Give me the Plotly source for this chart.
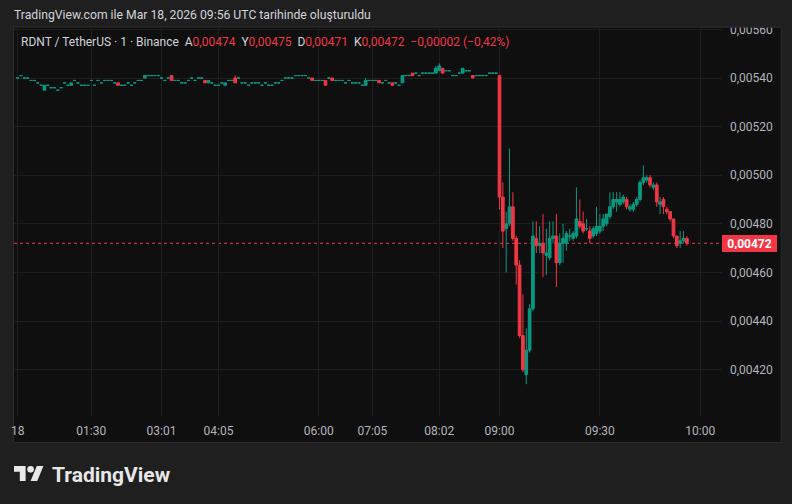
import plotly.graph_objects as go

# ---------------- data (prices in units of 0.00001 USDT) ----------------
PRE_OPEN_E5 = [
    540, 541, 540, 540, 539, 539, 538, 537,
    535, 537, 536, 536, 535, 536, 538, 537,
    537, 539, 538, 537, 537, 537, 539, 537,
    539, 538, 539, 539, 539, 538, 538, 537,
    537, 538, 537, 538,
    539, 539, 540, 541, 541, 541, 541, 540,
    539, 540, 541, 539, 539, 538, 538, 539,
    540, 539, 540, 540, 539, 538, 538, 537,
    537, 538, 537, 539, 539, 540, 540, 538,
    538, 537, 538, 538,
    538, 537, 538, 537, 537, 538, 538, 539,
    540, 540, 540, 541, 541, 541, 541, 540,
    540, 539, 539, 539, 539, 540, 540, 539,
    539, 539, 538, 539, 538, 538, 538, 537,
    537, 539, 539, 539,
    539, 538, 539, 538, 538, 538, 537, 538,
    541, 541, 542, 542, 541, 542, 542, 542,
    542, 542, 543, 544, 543, 543, 541, 541,
    542, 542, 543, 543, 541, 541, 541, 541,
    541, 542, 542, 542,
]
PRE_HIGH_E5 = [
    540, 541, 540, 540, 539, 539, 538, 537,
    537, 537, 536, 536, 535, 536, 538, 537,
    538, 539, 538, 537, 537, 537, 539, 537,
    539, 538, 539, 539, 539, 538, 538, 537,
    537, 538, 537, 538,
    539, 539, 541, 541, 541, 541, 541, 540,
    539, 540, 541, 539, 539, 538, 538, 539,
    540, 539, 540, 540, 539, 539, 538, 537,
    537, 538, 538, 539, 539, 541, 540, 538,
    538, 537, 538, 538,
    538, 537, 538, 537, 537, 538, 538, 539,
    540, 540, 540, 541, 541, 541, 541, 540,
    540, 539, 539, 539, 539, 540, 540, 539,
    539, 539, 538, 539, 538, 538, 538, 537,
    540, 539, 539, 539,
    539, 538, 539, 538, 538, 538, 537, 541,
    541, 541, 542, 542, 541, 542, 542, 542,
    542, 545, 546, 544, 543, 543, 541, 541,
    542, 544, 543, 543, 541, 541, 541, 541,
    541, 542, 542, 542,
]
PRE_LOW_E5 = [
    540, 541, 540, 540, 539, 539, 538, 537,
    535, 537, 536, 536, 535, 536, 538, 537,
    537, 539, 538, 537, 537, 537, 539, 537,
    539, 538, 539, 539, 539, 538, 537, 537,
    537, 538, 537, 538,
    539, 539, 540, 541, 541, 541, 541, 540,
    539, 540, 539, 539, 539, 538, 538, 539,
    540, 539, 540, 540, 538, 538, 538, 537,
    537, 538, 537, 539, 539, 538, 540, 538,
    538, 537, 538, 538,
    538, 537, 538, 537, 537, 538, 538, 539,
    540, 540, 540, 541, 541, 541, 541, 540,
    539, 539, 539, 539, 537, 540, 539, 539,
    539, 539, 538, 539, 538, 538, 538, 537,
    537, 539, 539, 539,
    538, 538, 539, 538, 537, 538, 537, 538,
    541, 541, 541, 542, 541, 542, 542, 542,
    542, 542, 543, 542, 543, 543, 541, 541,
    542, 542, 543, 543, 540, 541, 541, 541,
    541, 542, 542, 542,
]
PRE_CLOSE_E5 = [
    540, 541, 540, 540, 539, 539, 538, 537,
    537, 537, 536, 536, 535, 536, 538, 537,
    538, 539, 538, 537, 537, 537, 539, 537,
    539, 538, 539, 539, 539, 538, 537, 537,
    537, 538, 537, 538,
    539, 539, 541, 541, 541, 541, 541, 540,
    539, 540, 539, 539, 539, 538, 538, 539,
    540, 539, 540, 540, 538, 539, 538, 537,
    537, 538, 538, 539, 539, 538, 540, 538,
    538, 537, 538, 538,
    538, 537, 538, 537, 537, 538, 538, 539,
    540, 540, 540, 541, 541, 541, 541, 540,
    539, 539, 539, 539, 537, 540, 539, 539,
    539, 539, 538, 539, 538, 538, 538, 537,
    539, 539, 539, 539,
    538, 538, 539, 538, 537, 538, 537, 541,
    541, 541, 541, 542, 541, 542, 542, 542,
    542, 544, 545, 542, 543, 543, 541, 541,
    542, 544, 543, 543, 540, 541, 541, 541,
    541, 542, 542, 542,
]

# 09:00 .. 09:56, one-minute bars
POST_OPEN_E5 = [541, 491, 478, 480, 487, 474, 463, 434, 418, 428,
                445, 474, 471, 472, 467, 466, 474, 475, 464, 472,
                472, 475, 474, 475, 481, 480, 478, 477, 475, 476,
                477, 479, 480, 483, 487, 489, 488, 489, 490, 486,
                486, 488, 490, 497, 498, 499, 495, 496, 488, 490,
                486, 485, 482, 475, 472, 473, 474]
POST_HIGH_E5 = [541, 497, 485, 511, 493, 475, 465, 451, 437, 447,
                481, 481, 479, 484, 478, 481, 481, 484, 476, 480,
                477, 478, 477, 495, 490, 485, 482, 479, 479, 487,
                484, 484, 484, 493, 493, 493, 493, 492, 491, 488,
                489, 491, 498, 504, 500, 500, 497, 497, 491, 491,
                487, 485, 482, 475, 477, 477, 475]
POST_LOW_E5 = [486, 470, 460, 479, 473, 455, 433, 419, 414, 427,
               444, 468, 468, 458, 459, 465, 472, 454, 463, 464,
               469, 473, 473, 474, 478, 476, 477, 472, 474, 475,
               476, 477, 479, 482, 486, 485, 487, 488, 486, 485,
               485, 487, 489, 496, 497, 495, 494, 487, 484, 484,
               484, 481, 474, 470, 470, 472, 471]
POST_CLOSE_E5 = [491, 477, 480, 487, 474, 463, 434, 420, 428, 445,
                 475, 471, 472, 468, 468, 474, 475, 464, 472, 474,
                 476, 475, 476, 482, 479, 477, 478, 474, 478, 479,
                 479, 482, 484, 487, 490, 490, 490, 491, 487, 487,
                 488, 490, 497, 499, 499, 496, 496, 489, 489, 487,
                 485, 482, 475, 471, 473, 474, 472]

TIME_TICK_IDX = [-144, -122, -101, -84, -54, -38, -18, 0, 30, 60]
TIME_TICK_TEXT = ["18", "01:30", "03:01", "04:05", "06:00", "07:05", "08:02", "09:00", "09:30", "10:00"]
PRICE_TICKS = [0.00420, 0.00440, 0.00460, 0.00480, 0.00500, 0.00520, 0.00540, 0.00560]
LAST_PRICE = 0.00472

HEADER = "TradingView.com ile Mar 18, 2026 09:56 UTC tarihinde oluşturuldu"
SYMBOL = "RDNT / TetherUS · 1 · Binance"
OHLC_TEXT = [("A", "0,00474"), ("Y", "0,00475"), ("D", "0,00471"), ("K", "0,00472")]
CHANGE_TEXT = "−0,00002 (−0,42%)"

# ---------------- style ----------------
UP = "#089981"
DOWN = "#f23645"
OUTER_BG = "#1f1f1f"
PANE_BG = "#0f0f0f"
GRID = "#1e1e1e"
BORDER = "#2c2c2c"
TEXT = "#d1d4dc"
AXIS_TEXT = "#b2b5be"
FONT = "Roboto"

W, H = 792, 504
ML, MR, MT, MB = 11, 70, 28, 88
PW, PH = W - ML - MR, H - MT - MB


def px(xp):
    return (xp - ML) / PW


def py(yp):
    return (H - MB - yp) / PH


o = [v * 1e-5 for v in PRE_OPEN_E5 + POST_OPEN_E5]
h = [v * 1e-5 for v in PRE_HIGH_E5 + POST_HIGH_E5]
l = [v * 1e-5 for v in PRE_LOW_E5 + POST_LOW_E5]
c = [v * 1e-5 for v in PRE_CLOSE_E5 + POST_CLOSE_E5]
n_pre = len(PRE_OPEN_E5)
xs = list(range(-n_pre, len(POST_OPEN_E5)))

up_idx = [i for i in range(len(xs)) if c[i] >= o[i] - 1e-12]
dn_idx = [i for i in range(len(xs)) if c[i] < o[i] - 1e-12]

fig = go.Figure()
for idx, col in ((up_idx, UP), (dn_idx, DOWN)):
    fig.add_trace(go.Candlestick(
        x=[xs[i] for i in idx],
        open=[o[i] for i in idx],
        high=[h[i] for i in idx],
        low=[l[i] for i in idx],
        close=[c[i] for i in idx],
        increasing=dict(line=dict(color=col, width=1), fillcolor=col),
        decreasing=dict(line=dict(color=col, width=1), fillcolor=col),
        whiskerwidth=0,
        hoverinfo="skip",
        showlegend=False,
    ))

shapes = [
    # chart frame
    dict(type="rect", xref="paper", yref="paper", layer="below",
         x0=px(10.5), x1=px(781.5), y0=py(442.5), y1=py(27),
         fillcolor=PANE_BG, line=dict(color=BORDER, width=1)),
    # last price dotted line
    dict(type="line", xref="paper", yref="y", layer="below",
         x0=0, x1=1, y0=LAST_PRICE, y1=LAST_PRICE,
         line=dict(color=DOWN, width=1, dash="dot")),
    # cover the clipped top of the price scale
    dict(type="rect", xref="paper", yref="paper", layer="above",
         x0=px(700), x1=px(792), y0=py(27.5), y1=py(0),
         fillcolor=OUTER_BG, line=dict(width=0)),
    dict(type="line", xref="paper", yref="paper", layer="above",
         x0=px(700), x1=px(781.5), y0=py(27), y1=py(27),
         line=dict(color=BORDER, width=1)),
]

# TradingView logo (T, dot, slash) scaled from a 36-unit logo
s = 0.833
ox, oy = 11, 466 - 4 * s


def lp(u, v):
    return px(ox + u * s), py(oy + v * s)


def path(points):
    parts = []
    for k, (u, v) in enumerate(points):
        X, Y = lp(u, v)
        parts.append(("M" if k == 0 else "L") + f"{X:.5f},{Y:.5f}")
    return " ".join(parts) + " Z"


LOGO_COL = "#e8e8e8"
shapes.append(dict(type="path", xref="paper", yref="paper", layer="above",
                   path=path([(0, 4), (14, 4), (14, 22), (7, 22), (7, 11), (0, 11)]),
                   fillcolor=LOGO_COL, line=dict(width=0)))
shapes.append(dict(type="path", xref="paper", yref="paper", layer="above",
                   path=path([(20, 22), (27.5, 4), (35.5, 4), (28, 22)]),
                   fillcolor=LOGO_COL, line=dict(width=0)))
cx0, cy0 = lp(16, 4)
cx1, cy1 = lp(24, 12)
shapes.append(dict(type="circle", xref="paper", yref="paper", layer="above",
                   x0=cx0, x1=cx1, y0=cy1, y1=cy0,
                   fillcolor=LOGO_COL, line=dict(width=0)))

legend_html = f'<span style="color:{TEXT}">{SYMBOL}</span>  '
for k, v in OHLC_TEXT:
    legend_html += f'<span style="color:{TEXT}">{k}</span><span style="color:{DOWN}">{v}</span>  '
legend_html += f'<span style="color:{DOWN}">{CHANGE_TEXT}</span>'

last_txt = f"{LAST_PRICE:.5f}".replace(".", ",")

annotations = [
    dict(xref="paper", yref="paper", x=px(9), y=py(15), xanchor="left", yanchor="middle",
         text=HEADER, showarrow=False, font=dict(family=FONT, size=12.2, color=TEXT)),
    dict(xref="paper", yref="paper", x=px(16), y=py(42), xanchor="left", yanchor="middle",
         text=legend_html, showarrow=False, font=dict(family=FONT, size=12, color=TEXT)),
    dict(xref="paper", yref="y", x=px(722.5), y=LAST_PRICE, xanchor="left", yanchor="middle",
         text=f"<b>{last_txt}</b>", showarrow=False, bgcolor=DOWN, bordercolor=DOWN,
         borderwidth=1, borderpad=2, width=49, height=11,
         font=dict(family=FONT, size=12, color="#ffffff")),
    dict(xref="paper", yref="paper", x=px(47), y=py(475), xanchor="left", yanchor="middle",
         text="<b>TradingView</b>", showarrow=False,
         font=dict(family=FONT, size=21, color=LOGO_COL)),
]

fig.update_layout(
    width=W, height=H,
    margin=dict(l=ML, r=MR, t=MT, b=MB, pad=0),
    paper_bgcolor=OUTER_BG, plot_bgcolor=PANE_BG,
    separators=",.",
    boxgap=0.2, boxgroupgap=0,
    showlegend=False,
    shapes=shapes,
    annotations=annotations,
    xaxis=dict(
        range=[-145.1, 66.5], rangeslider=dict(visible=False),
        tickmode="array", tickvals=TIME_TICK_IDX, ticktext=TIME_TICK_TEXT,
        showgrid=True, gridcolor=GRID, gridwidth=1, zeroline=False, showline=False,
        ticks="", ticklabelstandoff=6,
        tickfont=dict(family=FONT, size=12, color=AXIS_TEXT),
        fixedrange=True,
    ),
    yaxis=dict(
        side="right", range=[0.0040091, 0.0056058],
        tickmode="array", tickvals=PRICE_TICKS, tickformat=".5f",
        showgrid=True, gridcolor=GRID, gridwidth=1, zeroline=False, showline=False,
        ticks="", ticklabelstandoff=7,
        tickfont=dict(family=FONT, size=12, color=AXIS_TEXT),
        fixedrange=True,
    ),
)

fig.write_html(
    "out.html",
    config={"displayModeBar": False},
    post_script=f"document.body.style.margin='0';document.body.style.background='{OUTER_BG}';",
)
